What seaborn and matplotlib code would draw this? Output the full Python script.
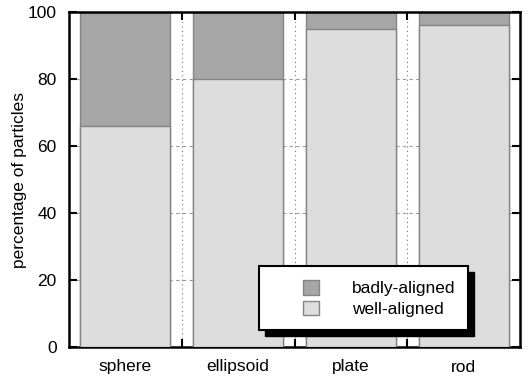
import matplotlib
matplotlib.use("Agg")
import matplotlib.pyplot as plt
import seaborn as sns
import pandas as pd
from matplotlib.patches import Patch, Rectangle

shapes = ["sphere", "ellipsoid", "plate", "rod"]
well_aligned = [66, 80, 95, 96]
badly_aligned = [34, 20, 5, 4]

dark = "#a6a6a6"
light = "#dddddd"
edge = "#858585"

sns.set_style("ticks", {"axes.edgecolor": "black", "xtick.color": "black",
                        "ytick.color": "black", "text.color": "black",
                        "axes.labelcolor": "black"})
plt.rcParams['font.family'] = ['Liberation Sans', 'DejaVu Sans']

df = pd.DataFrame({"shape": shapes, "well": well_aligned,
                   "total": [w + b for w, b in zip(well_aligned, badly_aligned)]})

fig, ax = plt.subplots(figsize=(5.32, 3.88), dpi=100)
fig.subplots_adjust(left=69 / 532, right=520 / 532, top=1 - 12 / 388, bottom=1 - 347 / 388)

# stacked bars: total (badly on top) then well-aligned over it
sns.barplot(data=df, x="shape", y="total", color=dark, saturation=1, width=0.8,
            edgecolor=edge, linewidth=1, ax=ax, zorder=2)
sns.barplot(data=df, x="shape", y="well", color=light, saturation=1, width=0.8,
            edgecolor=edge, linewidth=1, ax=ax, zorder=3)

ax.set_xlim(-0.5, 3.5)
ax.set_ylim(0, 100)
ax.set_yticks([0, 20, 40, 60, 80, 100])
ax.set_xlabel("")
ax.set_ylabel("percentage of particles", fontsize=12.5, labelpad=0)

ax.set_xticks([0.5, 1.5, 2.5], minor=True)
ax.tick_params(axis="x", which="major", length=0, labelsize=12.5, pad=9)
ax.tick_params(axis="x", which="minor", direction="in", length=6, width=1.5,
               top=True, bottom=True)
ax.tick_params(axis="y", direction="in", length=6, width=1.5, right=True,
               labelsize=12.5, pad=9)

ax.grid(False)
ax.xaxis.grid(True, which="minor", linestyle=(0, (1, 3)), color="#777777", linewidth=0.8)
ax.yaxis.grid(True, which="major", linestyle=(0, (3, 3)), color="#999999", linewidth=0.8)
ax.set_axisbelow(True)

for s in ax.spines.values():
    s.set_linewidth(1.8)
    s.set_visible(True)

# legend box with hard black shadow
bx0, bx1 = (259 - 69) / 451, (468 - 69) / 451
by0, by1 = (347 - 330) / 335, (347 - 266) / 335
ax.add_patch(Rectangle((bx0 + 6 / 451, by0 - 6 / 335), bx1 - bx0, by1 - by0,
                       transform=ax.transAxes, facecolor="black", edgecolor="black",
                       zorder=8, clip_on=False))
ax.add_patch(Rectangle((bx0, by0), bx1 - bx0, by1 - by0, transform=ax.transAxes,
                       facecolor="white", edgecolor="black", linewidth=1.5,
                       zorder=9, clip_on=False))

handles = [Patch(facecolor=dark, edgecolor=edge, label="badly-aligned"),
           Patch(facecolor=light, edgecolor=edge, label="well-aligned")]
leg = ax.legend(handles=handles, loc="center left",
                bbox_to_anchor=((303 - 69) / 451, (347 - 298.5) / 335),
                fontsize=12.5, frameon=False, borderpad=0, borderaxespad=0,
                handlelength=0.92, handleheight=0.92, handletextpad=1.9,
                labelspacing=0.25)
leg.set_zorder(10)

fig.savefig("out.png", dpi=100)
